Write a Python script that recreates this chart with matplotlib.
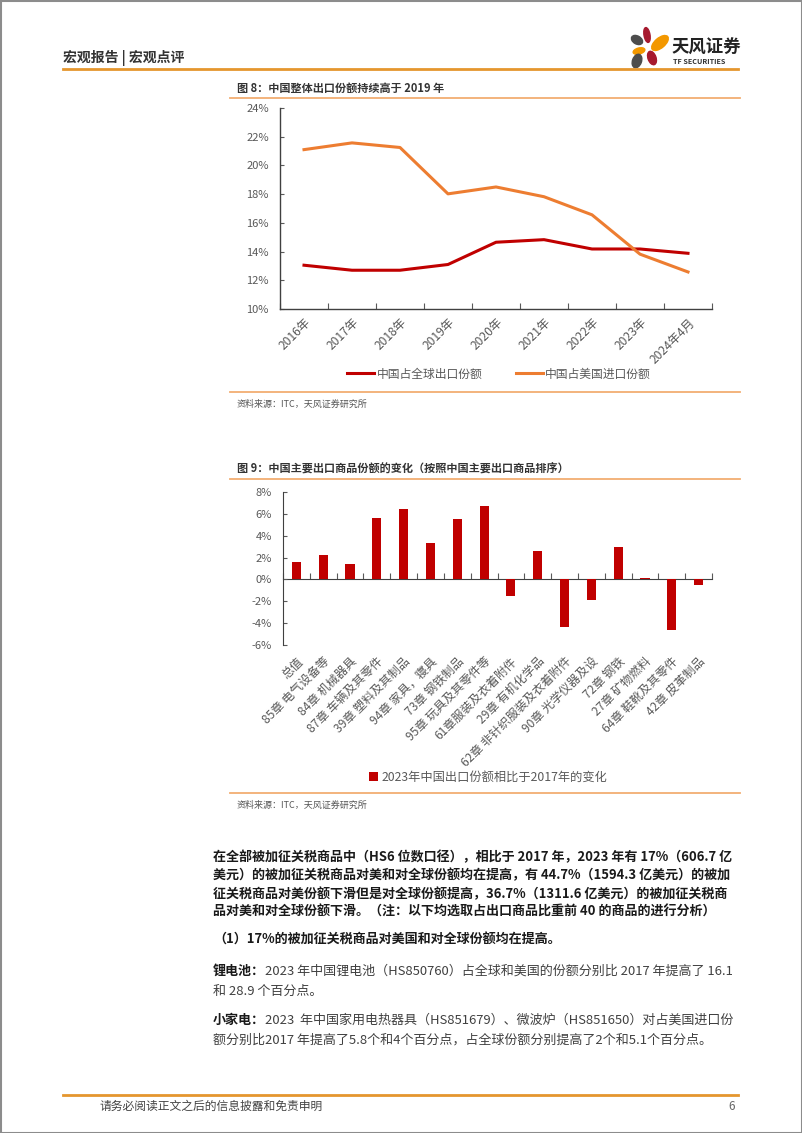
import numpy as np
import matplotlib
matplotlib.use('Agg')
import matplotlib.pyplot as plt
from matplotlib.patches import Ellipse, Rectangle

plt.rcParams['font.family'] = ['Noto Sans CJK SC', 'DejaVu Sans']

# 图8 数据
years = ['2016年', '2017年', '2018年', '2019年', '2020年', '2021年', '2022年', '2023年', '2024年4月']
share_global = [13.05, 12.7, 12.7, 13.1, 14.65, 14.83, 14.18, 14.18, 13.88]
share_us = [21.1, 21.57, 21.25, 18.02, 18.5, 17.82, 16.56, 13.82, 12.58]

# 图9 数据
chapters = ['总值', '85章 电气设备等', '84章 机械器具', '87章 车辆及其零件', '39章 塑料及其制品',
            '94章 家具，寝具', '73章 钢铁制品', '95章 玩具及其零件等', '61章服装及衣着附件',
            '29章 有机化学品', '62章 非针织服装及衣着附件', '90章 光学仪器及设', '72章 钢铁',
            '27章 矿物燃料', '64章 鞋靴及其零件', '42章 皮革制品']
share_change = [1.61, 2.25, 1.43, 5.66, 6.48, 3.35, 5.57, 6.76, -1.49, 2.62, -4.38, -1.89,
                2.98, 0.12, -4.63, -0.52]

W, H = 802, 1133
RED = '#C00000'
ORANGE = '#ED7D31'
GRAY = '#595959'
LINE_OR = '#F2AE72'
HEAD_OR = '#E5962E'

fig = plt.figure(figsize=(W / 100, H / 100), dpi=100)

# 整页画布，像素坐标
page = fig.add_axes([0, 0, 1, 1], zorder=0)
page.set_xlim(0, W)
page.set_ylim(H, 0)
page.axis('off')


def rect(x0, y0, x1, y1):
    return [x0 / W, 1 - y1 / H, (x1 - x0) / W, (y1 - y0) / H]


# 边框
page.add_patch(Rectangle((0.5, 0.5), W - 1, H - 1, fill=False, ec='#8c8c8c', lw=1.5))

# 页眉
page.text(63, 58, '宏观报告 | 宏观点评', fontsize=10, fontweight='bold', color='#333333', va='center')
page.plot([63, 738], [69, 69], color=HEAD_OR, lw=2)

# logo
petals = [((647, 35), 6, 15, -10, '#A6192E'),
          ((660, 43), 20, 10, -40, '#F39800'),
          ((637, 40), 12, 8, 30, '#4D4D4D'),
          ((639, 51), 12, 6, -15, '#F39800'),
          ((637, 61), 9, 14, 20, '#4D4D4D'),
          ((652, 58), 8, 14, -20, '#A6192E')]
for c, w, h, a, col in petals:
    page.add_patch(Ellipse(c, w, h, angle=a, color=col))
page.text(672, 48, '天风证券', fontsize=12.5, fontweight='bold', color='#222222', va='center')
page.text(673, 62, 'TF SECURITIES', fontsize=5.2, fontweight='bold', color='#333333', va='center')

# ---------- 图 8 ----------
page.text(237, 88, '图 8：中国整体出口份额持续高于 2019 年', fontsize=8, fontweight='bold',
          color='#333333', va='center')
page.plot([230, 740], [98, 98], color=LINE_OR, lw=1.3)

ax1 = fig.add_axes(rect(280, 108, 712, 309))
x1 = np.arange(len(years))
ax1.plot(x1, share_global, color=RED, lw=2.2, label='中国占全球出口份额')
ax1.plot(x1, share_us, color=ORANGE, lw=2.2, label='中国占美国进口份额')
ax1.set_xlim(-0.5, len(years) - 0.5)
ax1.set_ylim(10, 24)
ax1.set_yticks(np.arange(10, 25, 2))
ax1.set_yticklabels([f'{v}%' for v in range(10, 25, 2)])
ax1.set_xticks(np.arange(-0.5, len(years), 1))
ax1.set_xticklabels([])
ax1.set_xticks(x1, minor=True)
ax1.set_xticklabels(years, minor=True, rotation=45, ha='right', rotation_mode='anchor')
ax1.tick_params(axis='x', which='major', direction='in', length=4, color=GRAY)
ax1.tick_params(axis='x', which='minor', length=0, pad=5, labelsize=8.7, labelcolor=GRAY)
ax1.tick_params(axis='y', direction='in', length=3, color=GRAY, labelsize=8, labelcolor=GRAY, pad=8)
for s in ['top', 'right']:
    ax1.spines[s].set_visible(False)
for s in ['left', 'bottom']:
    ax1.spines[s].set_color('#404040')
    ax1.spines[s].set_linewidth(1)
ax1.patch.set_alpha(0)
ax1.legend(loc='center', bbox_to_anchor=(499 / W, 1 - 374 / H), bbox_transform=fig.transFigure,
           ncol=2, frameon=False, fontsize=8.5, labelcolor=GRAY, handlelength=2.3,
           handletextpad=0.2, columnspacing=2.8)

page.plot([230, 740], [392, 392], color=LINE_OR, lw=1.3)
page.text(237, 404, '资料来源：ITC，天风证券研究所', fontsize=6.5, color='#555555', va='center')

# ---------- 图 9 ----------
page.text(237, 468, '图 9：中国主要出口商品份额的变化（按照中国主要出口商品排序）', fontsize=8,
          fontweight='bold', color='#333333', va='center')
page.plot([230, 740], [479, 479], color=LINE_OR, lw=1.3)

ax2 = fig.add_axes(rect(283, 492, 712, 645))
x2 = np.arange(len(chapters))
ax2.bar(x2, share_change, width=0.34, color=RED, label='2023年中国出口份额相比于2017年的变化')
ax2.set_xlim(-0.5, len(chapters) - 0.5)
ax2.set_ylim(-6, 8)
ax2.set_yticks(np.arange(-6, 9, 2))
ax2.set_yticklabels([f'{v}%' for v in range(-6, 9, 2)])
ax2.set_xticks(x2)
ax2.set_xticklabels(chapters, rotation=45, ha='right', rotation_mode='anchor')
ax2.tick_params(axis='x', length=0, pad=7, labelsize=8.7, labelcolor=GRAY)
ax2.tick_params(axis='y', direction='in', length=3, color=GRAY, labelsize=8, labelcolor=GRAY, pad=8)
for s in ['top', 'right', 'bottom']:
    ax2.spines[s].set_visible(False)
ax2.spines['left'].set_color('#404040')
ax2.patch.set_alpha(0)

# 零线及分隔刻度
zero = ax2.secondary_xaxis(6 / 14)
zero.set_xticks(np.arange(-0.5, len(chapters), 1))
zero.set_xticklabels([])
zero.tick_params(direction='in', length=4, color=GRAY)
zero.spines['bottom'].set_color('#404040')

ax2.legend(loc='center', bbox_to_anchor=(488 / W, 1 - 777 / H), bbox_transform=fig.transFigure,
           frameon=False, fontsize=8.8, labelcolor=GRAY, handlelength=0.7, handleheight=0.7,
           handletextpad=0.3)

page.plot([230, 740], [793, 793], color=LINE_OR, lw=1.3)
page.text(237, 805, '资料来源：ITC，天风证券研究所', fontsize=6.5, color='#555555', va='center')

# ---------- 正文 ----------
BODY = 9.4
bold_lines = [
    (857, '在全部被加征关税商品中（HS6 位数口径），相比于 2017 年，2023 年有 17%（606.7 亿'),
    (875, '美元）的被加征关税商品对美和对全球份额均在提高，有 44.7%（1594.3 亿美元）的被加'),
    (894, '征关税商品对美份额下滑但是对全球份额提高，36.7%（1311.6 亿美元）的被加征关税商'),
    (912, '品对美和对全球份额下滑。（注：以下均选取占出口商品比重前 40 的商品的进行分析）'),
    (940, '（1）17%的被加征关税商品对美国和对全球份额均在提高。'),
]
for y, s in bold_lines:
    page.text(213, y, s, fontsize=BODY, fontweight='bold', color='#1a1a1a', va='center')

mixed = [
    (971, '锂电池：', '2023 年中国锂电池（HS850760）占全球和美国的份额分别比 2017 年提高了 16.1'),
    (1020, '小家电：', '2023  年中国家用电热器具（HS851679）、微波炉（HS851650）对占美国进口份'),
]
for y, b, s in mixed:
    t = page.text(213, y, b, fontsize=BODY, fontweight='bold', color='#1a1a1a', va='center')
    page.annotate(s, xy=(1, 0.5), xycoords=t, fontsize=BODY, color='#404040', va='center')

page.text(213, 991, '和 28.9 个百分点。', fontsize=BODY, color='#404040', va='center')
page.text(213, 1040, '额分别比2017 年提高了5.8个和4个百分点，占全球份额分别提高了2个和5.1个百分点。',
          fontsize=BODY, color='#404040', va='center')

# 页脚
page.plot([63, 738], [1095, 1095], color=HEAD_OR, lw=2)
page.text(100, 1106, '请务必阅读正文之后的信息披露和免责申明', fontsize=8.5, color='#444444', va='center')
page.text(735, 1106, '6', fontsize=8.5, color='#666666', va='center', ha='right')

fig.savefig('out.png', dpi=100)
